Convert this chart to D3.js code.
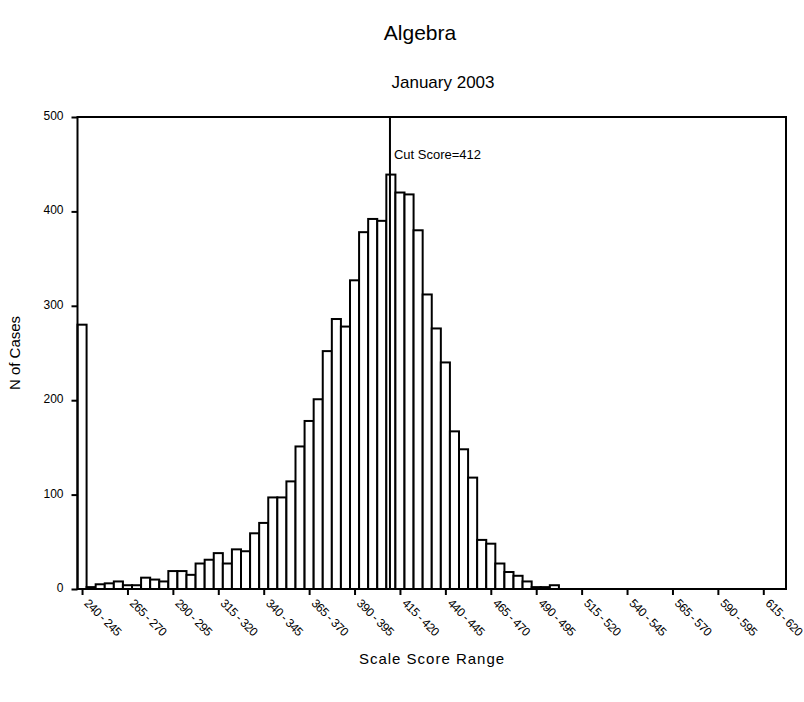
<!DOCTYPE html>
<html lang="en">
<head>
    <meta charset="UTF-8">
    <title>Algebra</title>
    <script src="https://cdn.jsdelivr.net/npm/d3@7/dist/d3.min.js"></script>
    <style>
        body { margin: 0; background: #fff; }
        text { font-family: "Liberation Sans", Arial, sans-serif; fill: #000; }
    </style>
</head>
<body>
<script>
    // histogram of scale scores, 5-point bins starting at 240
    const binStarts = [240, 245, 250, 255, 260, 265, 270, 275, 280, 285,
        290, 295, 300, 305, 310, 315, 320, 325, 330, 335,
        340, 345, 350, 355, 360, 365, 370, 375, 380, 385,
        390, 395, 400, 405, 410, 415, 420, 425, 430, 435,
        440, 445, 450, 455, 460, 465, 470, 475, 480, 485,
        490, 495, 500]
    const counts = [280, 2, 5, 6, 8, 4, 4, 12, 10, 8,
        19, 19, 15, 27, 31, 38, 27, 42, 40, 59,
        70, 97, 97, 114, 151, 178, 201, 252, 286, 278,
        327, 378, 392, 390, 439, 420, 418, 380, 312, 276,
        240, 167, 148, 118, 52, 48, 27, 18, 14, 8,
        2, 2, 4]
    const tickLabels = ['240 - 245', '265 - 270', '290 - 295', '315 - 320', '340 - 345',
        '365 - 370', '390 - 395', '415 - 420', '440 - 445', '465 - 470',
        '490 - 495', '515 - 520', '540 - 545', '565 - 570', '590 - 595', '615 - 620']
    const yTicks = [0, 100, 200, 300, 400, 500]
    const cutScore = 412
    const binWidth = 5

    const width = 804, height = 702
    const margin = {left: 77.5, right: 18, top: 117, bottom: 113}

    const svg = d3.select('body').append('svg')
        .attr('width', width)
        .attr('height', height)

    const x = d3.scaleLinear()
        .domain([240, 630])
        .range([margin.left, width - margin.right])
    const y = d3.scaleLinear()
        .domain([0, 500])
        .range([height - margin.bottom, margin.top])

    // bars
    svg.append('g').selectAll('rect')
        .data(counts.map((c, i) => ({start: binStarts[i], value: c})))
        .join('rect')
        .attr('x', d => x(d.start))
        .attr('width', d => x(d.start + binWidth) - x(d.start))
        .attr('y', d => y(d.value))
        .attr('height', d => y(0) - y(d.value))
        .attr('fill', '#fff')
        .attr('stroke', '#000')
        .attr('stroke-width', 2)

    // cut score line
    svg.append('line')
        .attr('x1', x(cutScore)).attr('x2', x(cutScore))
        .attr('y1', y(500)).attr('y2', y(0))
        .attr('stroke', '#000')
        .attr('stroke-width', 2)
    svg.append('text')
        .attr('x', x(cutScore) + 4)
        .attr('y', y(500) + 42)
        .attr('font-size', 13)
        .text('Cut Score=' + cutScore)

    // frame
    svg.append('rect')
        .attr('x', x(240)).attr('y', y(500))
        .attr('width', x(630) - x(240))
        .attr('height', y(0) - y(500))
        .attr('fill', 'none')
        .attr('stroke', '#000')
        .attr('stroke-width', 2)

    // y axis
    const yAxis = d3.axisLeft(y)
        .tickValues(yTicks)
        .tickSize(6)
        .tickPadding(8)
    const gy = svg.append('g')
        .attr('transform', `translate(${x(240)},0)`)
        .call(yAxis)
    gy.select('.domain').remove()
    gy.selectAll('line').attr('stroke-width', 2)
    gy.selectAll('text')
        .attr('font-size', 12)
        .attr('dy', '0.2em')
        .attr('font-family', '"Liberation Sans", Arial, sans-serif')

    // x axis, ticks at bin centres
    const tickPos = tickLabels.map(t => +t.split(' - ')[0] + binWidth / 2)
    const xAxis = d3.axisBottom(x)
        .tickValues(tickPos)
        .tickFormat((d, i) => tickLabels[i])
        .tickSize(6)
    const gx = svg.append('g')
        .attr('transform', `translate(0,${y(0)})`)
        .call(xAxis)
    gx.select('.domain').remove()
    gx.selectAll('line').attr('stroke-width', 2)
    gx.selectAll('text')
        .attr('font-size', 12)
        .attr('font-family', '"Liberation Sans", Arial, sans-serif')
        .attr('text-anchor', 'start')
        .attr('dy', '0.35em')
        .attr('letter-spacing', -0.5)
        .attr('transform', 'translate(4,12) rotate(45)')
        .attr('y', 0)
        .attr('x', 0)

    // titles
    svg.append('text')
        .attr('x', 420).attr('y', 40)
        .attr('text-anchor', 'middle')
        .attr('font-size', 21)
        .text('Algebra')
    svg.append('text')
        .attr('x', 443).attr('y', 88)
        .attr('text-anchor', 'middle')
        .attr('font-size', 17)
        .text('January 2003')
    svg.append('text')
        .attr('x', 432).attr('y', 664)
        .attr('text-anchor', 'middle')
        .attr('font-size', 15)
        .attr('letter-spacing', 1)
        .text('Scale Score Range')
    svg.append('text')
        .attr('transform', `translate(20,${(y(0) + y(500)) / 2}) rotate(-90)`)
        .attr('text-anchor', 'middle')
        .attr('font-size', 15)
        .text('N of Cases')
</script>
</body>
</html>
